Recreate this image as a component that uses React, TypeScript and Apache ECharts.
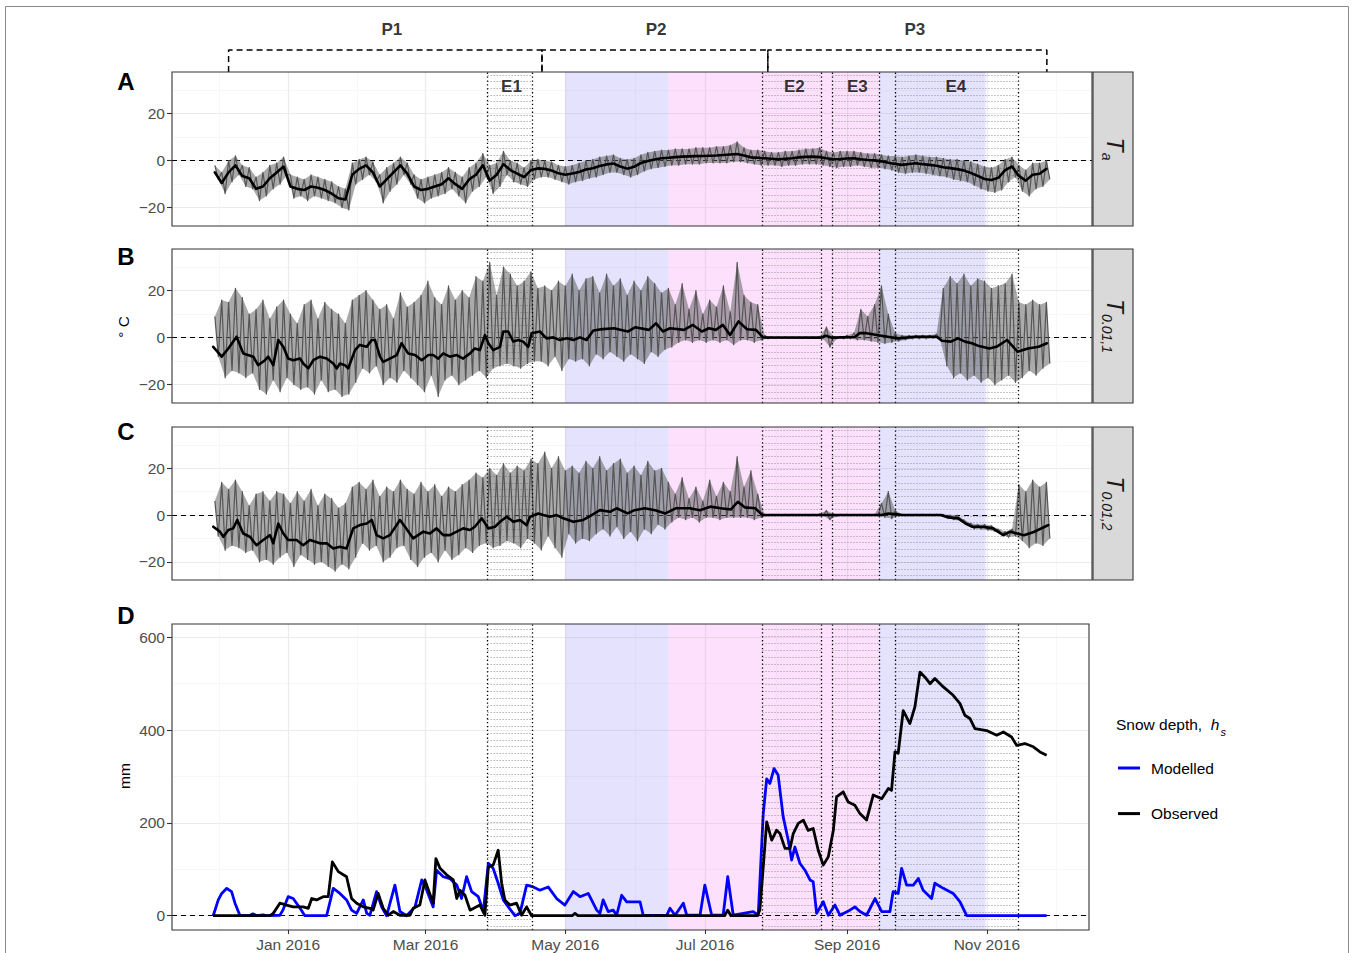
import React, { useEffect, useRef } from 'react';
import * as echarts from 'echarts';

// x values are days counted from 1 Jan 2016 (0 = 1 Jan 2016)
const X_TICKS = [0, 60, 121, 182, 244, 305];
const X_TICK_LABELS = ['Jan 2016', 'Mar 2016', 'May 2016', 'Jul 2016', 'Sep 2016', 'Nov 2016'];
const X_MINOR = [-30, 30, 90.5, 151.5, 213, 274.5, 335.5];
const T_TICKS = [-20, 0, 20];
const T_MINOR = [-10, 10, 30];
const D_TICKS = [0, 200, 400, 600];
const D_MINOR = [100, 300, 500];

const EVENT_NAMES = ['E1', 'E2', 'E3', 'E4'];
const EVENT_START = [87, 207, 237.5, 265];
const EVENT_END = [106.5, 232.5, 258, 318.5];
const EVENT_LABEL_AT = [97.5, 221, 248.5, 291.5];
const SHADE_BLUE = [[121, 166], [258, 304.5]];
const SHADE_PINK = [[166, 258]];
const PERIOD_NAMES = ['P1', 'P2', 'P3'];
const PERIOD_START = [-26, 110.8, 209.4];
const PERIOD_END = [110.8, 209.4, 331.2];
const PERIOD_LABEL_AT = [45.3, 160.6, 273.6];

// hourly temperature envelope, sampled every 3 days from day -32 (high, then low half a step later)
const GREY_START = -32;
const GREY_STEP = 3;

const TA_MEAN = [
  -5, -9.5, -5, -2, -6.5, -7.5, -12, -11, -7.5, -5,
  -2.5, -11, -12, -12.5, -11, -11.5, -12.5, -14, -16, -16.5,
  -6, -3.5, -2, -5, -11, -8, -5, -2, -5.5, -11,
  -12.5, -12, -11, -10, -7.5, -10, -12, -8, -6, -2,
  -8.5, -6, -1.5, -4, -5.5, -7, -4, -3.3, -3.5, -4.2,
  -5.4, -6, -5.5, -4.8, -3.8, -3.2, -2.3, -1.6, -1.2, -2.5,
  -3.4, -2.6, -1, -0.2, 0.5, 1, 1.2, 1.5, 1.7, 1.8,
  1.9, 2, 2.1, 2.2, 2.4, 2.6, 2.8, 2.2, 1.4, 1.2,
  1, 0.8, 0.6, 0.8, 1, 1.4, 1.6, 1.7, 1.5, 1,
  0.6, 0.7, 0.9, 1, 0.6, 0.3, 0.1, -0.3, -0.9, -1.4,
  -1.8, -1.4, -1.1, -1.5, -1.8, -2.2, -2.8, -3.2, -3.6, -4.2,
  -5.2, -6.5, -7.8, -8.2, -7.3, -4, -2.5, -6.5, -8.5, -6,
  -5.6, -3.5,
];
const TA_HI = [
  -2, -5, 0, 2, -2, -3, -7, -5, -2, -1,
  1.5, -6, -7, -8, -6, -7, -8, -9, -11, -12,
  -1, 0.5, 1.5, -0.5, -6, -3, -1, 1.5, -1, -6,
  -8, -7, -6, -5, -3, -5, -7, -3, -1, 3,
  -2, -1, 4, 0, -1, -3, 0, 0.5, 0, -0.5,
  -2, -2.5, -2, -1, 0, 0.5, 1.5, 2, 2.5, 1,
  0.5, 1, 2.5, 3.5, 4, 4.5, 4.5, 5, 5, 5,
  5.5, 5.5, 5.5, 6, 6, 6.5, 8, 5.5, 4.5, 4.5,
  4, 3.5, 3.5, 4, 4, 4.5, 5, 5, 5.5, 4,
  3.5, 4, 4, 4, 3.5, 3, 3, 2.5, 2, 2,
  1.5, 2, 2.5, 2, 1.5, 1.5, 1, 0.5, 0.5, 0,
  -0.5, -1.5, -2.5, -3, -2, 0.5, 1.5, -2, -4, -1,
  -1, 0,
];
const TA_LO = [
  -8, -14, -9, -6, -11, -12, -17, -15, -12, -10,
  -6, -16, -15, -17, -15, -16, -17, -18, -20, -21,
  -10, -8, -6, -9, -18, -13, -10, -6, -10, -16,
  -18, -16, -15, -14, -12, -15, -18, -13, -11, -7,
  -14, -11, -6, -9, -10, -11, -8, -7, -7, -8,
  -9, -10, -9, -8.5, -7.5, -7, -6, -5, -5, -6,
  -7, -6, -4.5, -3.5, -3, -2.5, -2, -2, -1.5, -1.5,
  -1.5, -1, -1, -1, -1, -0.5, -0.5, -1, -1.5, -2,
  -2, -2, -2.5, -2, -2, -1.5, -1.5, -1.5, -2, -2.5,
  -3, -2.5, -2.5, -2, -2.5, -3, -3, -3.5, -4, -5,
  -5.5, -5, -5, -5.5, -6, -6.5, -7, -8, -8.5, -9,
  -10.5, -12, -13, -13.5, -12.5, -9, -7, -13, -15, -12,
  -11, -8,
];

const T1_MEAN = [
  [-32.7, -3.9], [-29, -8.1], [-26.1, -4.6], [-22.5, 0.4], [-19.6, -6.7], [-15.2, -8.1], [-13.1, -11.7],
  [-10.1, -9.6], [-8.7, -8.1], [-6.5, -11.7], [-4.3, -1], [-2.1, -3.9], [0, -8.9], [2.2, -9.6], [5.2, -8.9],
  [6.6, -11], [8.8, -13.1], [11, -9.6], [13.9, -8.1], [16.8, -8.9], [19.7, -11], [21.2, -13.1], [22.6, -11],
  [24.8, -11.7], [26.2, -13.1], [29.2, -5.3], [31.3, -3.1], [34.3, -3.9], [36.5, -1], [37.9, -1], [40.1, -8.1],
  [41.5, -10.3], [44.4, -8.9], [47.4, -7.4], [49.5, -2.4], [52.4, -6.7], [55.4, -7.4], [58.3, -9.6], [61.2, -7.4],
  [63.3, -7.4], [65.5, -8.9], [67.7, -6.7], [70.6, -8.1], [73.6, -7.4], [76.4, -8.9], [79.4, -6.7], [81.5, -4.6],
  [83.7, -5.3], [85.9, 1.1], [87.4, -2.4], [89.5, -5.3], [92.5, -3.9], [93.9, 2.6], [96.1, 2.6], [98.3, -1.7],
  [100.4, -1], [102.6, -1.7], [104.8, -3.9], [106.3, 1.9], [109.9, 2.6], [112.8, -0.3], [115.7, 0.1], [118.6, -1],
  [121.6, -0.3], [124.5, -1], [127.4, 0.1], [130.3, -1], [133.2, 3], [136.1, 3.5], [142.2, 4], [148.3, 2.6],
  [151.4, 4.4], [157.5, 3.3], [160.6, 6.1], [163.6, 2.6], [166.7, 4], [172.8, 3.3], [176.7, 5.4], [180.6, 2.6],
  [183.7, 4], [186.7, 3.3], [189.8, 5.4], [192.9, 1.1], [196.6, 6.9], [200.3, 3.6], [204.2, 3.3], [207.3, 0.1],
  [232.6, 0], [234.7, 0.8], [237.4, 0], [247.4, 0.3], [249.4, 1.9], [252.5, 1.9], [257, 1.1], [261.7, 0.4],
  [266.2, -0.3], [274, 0.4], [283.1, 0.4], [285.4, -1.3], [289.3, -1.7], [292.4, -0.3], [295.4, -1.7],
  [298.5, -2.4], [301.6, -3.6], [306.1, -4.6], [309.2, -3.9], [313.8, -1], [318.4, -6], [322.9, -4.6],
  [327.6, -3.9], [331.2, -2.4],
];
const T1_HI = [
  9, 16, 15, 21, 17, 10, 12, 16, 8, 13,
  16, 10, 6, 14, 16, 8, 15, 12, 10, 6,
  16, 18, 20, 16, 12, 14, 8, 19, 13, 15,
  18, 24, 17, 14, 22, 16, 20, 17, 26, 24,
  32, 18, 30, 27, 22, 24, 28, 21, 22, 20,
  24, 22, 27, 20, 25, 26, 19, 27, 22, 25,
  18, 24, 20, 26, 23, 19, 21, 14, 23, 12,
  20, 10, 16, 13, 22, 11, 32, 18, 15, 14,
  1, 0.3, 0.3, 0.3, 0.3, 0.3, 0.3, 0.3, 0.5, 4.5,
  0.5, 0.5, 1, 2, 12, 9, 14, 22, 10, 2,
  1, 1, 1, 1, 1, 1.5, 21, 26, 23, 27,
  22, 25, 24, 21, 22, 23, 27, 15, 14, 16,
  14, 15,
];
const T1_LO = [
  -8, -17, -14, -15, -17, -15, -22, -24, -18, -23,
  -17, -20, -22, -21, -24, -18, -23, -22, -25, -24,
  -19, -13, -15, -12, -20, -17, -19, -14, -17, -20,
  -23, -16, -25, -18, -16, -20, -18, -16, -14, -17,
  -13, -12, -11, -12, -13, -11, -10, -10, -12, -8,
  -14, -9, -10, -9, -12, -7, -9, -6, -8, -10,
  -7, -9, -11, -6, -8, -5, -4, -2, -1, -2,
  -1, -2, -1, -2, -1, -3, -1, -1, -2, -1,
  -0.5, -0.3, -0.3, -0.3, -0.3, -0.3, -0.3, -0.3, -0.5, -4,
  -0.5, -0.5, -0.5, -1, -1, -1.5, -2, -2.5, -2, -1.5,
  -1, -0.5, -0.5, -0.5, -0.3, -0.5, -12, -17, -15, -18,
  -16, -19, -17, -20, -18, -16, -19, -17, -14, -16,
  -13, -11,
];

const T2_MEAN = [
  [-32.7, -5], [-29.8, -7.1], [-28.3, -9.3], [-26.1, -6.4], [-24, -5.7], [-22.2, -2.1], [-19.6, -7.9],
  [-16.7, -9.3], [-13.8, -12.9], [-10.9, -10.7], [-7.9, -8.6], [-6.5, -12.1], [-4.3, -3.6], [-2.1, -7.9],
  [0, -10.7], [3.7, -10.7], [6.6, -12.9], [9.5, -10.7], [13.9, -12.1], [16.8, -12.1], [19.7, -14.3],
  [22.6, -13.6], [25.5, -14.3], [28.4, -5.7], [31.3, -4.3], [34.3, -3.6], [36.5, -2.1], [38.6, -8.6],
  [41.5, -10], [44.4, -8.6], [48.8, -2.1], [51, -5], [54.6, -10], [59, -7.1], [61.9, -7.9], [64.8, -5.7],
  [67.7, -8.6], [70.6, -8.6], [73.6, -7.1], [76.4, -5.7], [79.4, -6.4], [81.5, -5], [84.5, -1.4], [87.4, -5.7],
  [90.3, -5], [92.5, -2.9], [95.4, -0.7], [98.3, -2.9], [101.2, -2.1], [104.1, -4.3], [105.6, -0.7],
  [109.2, 0.7], [111.4, 0], [114.3, -0.7], [117.2, 0], [120.1, -1.4], [124.5, -2.9], [128.8, -2.1],
  [132.5, 0], [136.1, 2.1], [140.5, 1.4], [143.4, 2.9], [148.2, 0.7], [151.2, 2.1], [155.7, 2.9], [160.2, 2.1],
  [164.7, 0.7], [169.2, 2.9], [175.3, 2.9], [179.8, 2.1], [184.3, 3.6], [188.8, 2.9], [193.3, 2.4], [196.3, 5.7],
  [199.3, 3.3], [203.9, 2.9], [206.6, 0.4], [207.5, 0], [259, 0], [262, 0.7], [266, 0.3], [268, 0], [285, 0],
  [288.1, -1], [292.6, -1.4], [295.7, -3.6], [298.7, -5], [303.2, -5], [307.7, -5.7], [312.2, -8.6],
  [315.2, -7.1], [318.2, -7.9], [321.2, -8.6], [325.8, -7.1], [330.3, -5], [331.8, -4.3],
];
const T2_HI = [
  6, 14, 11, 15, 10, 4, 9, 10, 6, 10,
  9, 5, 10, 6, 11, 4, 9, 7, 3, 5,
  12, 14, 11, 15, 8, 12, 10, 15, 11, 9,
  14, 10, 13, 8, 12, 10, 13, 15, 18, 16,
  20, 17, 22, 18, 21, 19, 24, 22, 27, 20,
  25, 19, 21, 18, 23, 20, 25, 19, 22, 24,
  18, 21, 17, 23, 19, 20, 14, 9, 16, 7,
  12, 6, 15, 8, 14, 10, 25, 12, 19, 9,
  0.3, 0.3, 0.3, 0.3, 0.3, 0.3, 0.3, 0.3, 0.5, 2,
  0.5, 0.3, 0.3, 0.3, 0.3, 0.3, 0.3, 5, 10, 2,
  0.3, 0.3, 0.3, 0.3, 0.3, 0.3, 0.3, 0, 0, -2,
  -3.5, -4, -4, -4.5, -6, -7, -6, 13, 10, 15,
  12, 14,
];
const T2_LO = [
  -9, -15, -13, -14, -16, -15, -20, -19, -21, -18,
  -16, -22, -17, -19, -21, -20, -22, -24, -21, -23,
  -18, -12, -15, -13, -20, -18, -14, -13, -19, -22,
  -18, -16, -20, -15, -19, -17, -14, -16, -13, -12,
  -14, -13, -11, -12, -14, -10, -12, -15, -9, -14,
  -18, -8, -12, -10, -11, -8, -6, -9, -5, -10,
  -7, -11, -6, -8, -4, -6, -3, -1, -2, -1,
  -3, -1, -1, -2, -1, -1, -1, -1, -2, -1,
  -0.3, -0.3, -0.3, -0.3, -0.3, -0.3, -0.3, -0.3, -0.3, -2,
  -0.5, -0.3, -0.3, -0.3, -0.3, -0.3, -0.3, -1, -1.5, -0.5,
  -0.3, -0.3, -0.3, -0.3, -0.3, -0.3, -1, -2, -2.5, -4,
  -6, -6, -6.5, -7, -8.5, -9.5, -9, -11, -14, -12,
  -13, -10,
];

// snow depth (mm), [day, value]
const HS_MODELLED = [
  [-32.7, 0], [-30.5, 34], [-29, 48], [-26.8, 59], [-24.7, 52], [-23.2, 27], [-21, 0], [-17, 0], [-15.4, 4],
  [-13.5, 0], [-11, 2], [-9.5, 0], [-3.6, 1], [-2.3, 12], [0, 41], [2.2, 37], [5.2, 16], [7.3, 0], [16.8, 0],
  [19.7, 59], [22.6, 48], [25.5, 34], [27.7, 12], [29.9, 5], [32.8, 34], [34.3, 5], [35.7, 1], [38.6, 52],
  [40.8, 19], [43, 0], [46.6, 66], [48.8, 9], [51.7, 0], [55.4, 19], [58.3, 77], [60.5, 55], [63.3, 19],
  [64.8, 98], [67.7, 84], [70.6, 80], [73.6, 66], [75.7, 37], [77.9, 84], [80.1, 52], [83, 41], [85.2, 9],
  [87.4, 113], [89.5, 102], [91.7, 70], [93.9, 34], [96.1, 19], [99, 0], [101.2, 5], [104.1, 66], [107, 62],
  [109.9, 55], [113.5, 62], [117.2, 37], [120.8, 23], [124.5, 52], [127.4, 41], [131, 48], [134.7, 12],
  [136.1, 5], [137.5, 34], [139.7, 9], [141.9, 12], [143.4, 1], [145.6, 44], [147.8, 30], [149.9, 30],
  [153.6, 30], [155, 1], [165.2, 0], [166.7, 16], [168.9, 1], [172.5, 27], [174, 1], [179.8, 1], [181.9, 66],
  [184.9, 1], [189.9, 1], [191.9, 84], [194.3, 1], [203, 9], [205.2, 1], [207.4, 220], [208.9, 295],
  [210.3, 285], [212.1, 317], [213.9, 303], [216.1, 213], [218.3, 163], [219.8, 120], [221.2, 148],
  [223.4, 113], [225.6, 98], [227.8, 77], [229.2, 73], [230.7, 5], [233.6, 30], [235.8, 1], [238.7, 23],
  [240.9, 1], [245.2, 12], [247.4, 19], [249.6, 9], [252.5, 1], [256.2, 37], [259.1, 9], [262.7, 9],
  [264.1, 52], [266.3, 48], [267.8, 102], [270, 66], [272.9, 66], [275.1, 80], [277.2, 55], [280.9, 37],
  [282.3, 70], [286, 59], [290.3, 48], [293.3, 30], [296.2, 0], [331.1, 0],
];
const HS_OBSERVED = [
  [-32.8, 0], [-7.9, 0], [-6.5, 5], [-3.6, 27], [-0.7, 23], [2.2, 19], [6.6, 19], [8.8, 16], [10.3, 37],
  [12.4, 34], [15.3, 41], [17.5, 41], [19.3, 116], [21.9, 95], [25.5, 84], [27.7, 37], [29.9, 27], [32.8, 19],
  [35.7, 16], [37.1, 12], [39.3, 48], [41.5, 16], [43.7, 1], [45.9, 9], [48.8, 1], [53.2, 1], [54.6, 16],
  [57.5, 23], [59.7, 77], [63.3, 27], [64.5, 123], [66.3, 102], [69.2, 88], [72.1, 77], [73.6, 37], [75, 55],
  [77.2, 44], [79.4, 12], [83.7, 23], [85.9, 1], [87.4, 105], [89.5, 109], [91.7, 141], [93.2, 70], [94.6, 34],
  [96.8, 23], [99.7, 27], [101.9, 1], [104.1, 19], [106.3, 0], [124, 0], [125.2, 5], [126.5, 0], [190.5, 0],
  [191.9, 12], [193.3, 0], [204.8, 0], [205.9, 12], [207.4, 105], [208.9, 202], [211.1, 163], [213.2, 184],
  [214.7, 177], [216.9, 145], [219.1, 145], [220.5, 177], [222.7, 199], [224.9, 206], [227, 184], [229.2, 188],
  [231.4, 141], [233.6, 109], [235.8, 127], [238, 184], [239.4, 256], [242.3, 267], [244.5, 245], [247.4, 238],
  [249.6, 220], [252.5, 206], [255.4, 260], [259.1, 252], [262, 274], [263.4, 270], [264.9, 353], [266.3, 350],
  [268.5, 442], [271.4, 414], [273.6, 450], [275.8, 525], [278, 514], [280.2, 500], [282.3, 511], [286, 493],
  [290.3, 475], [293.3, 457], [295.4, 432], [297.6, 425], [299.8, 403], [304.9, 399], [309.3, 389],
  [312.2, 396], [315.8, 385], [318, 367], [321.6, 371], [325.3, 364], [328.2, 353], [331.1, 346],
];

const FONT = "'Liberation Sans', Arial, Helvetica, sans-serif";
const TICK_COLOR = '#4d4d4d';
const BLUE_FILL = 'rgba(120,110,240,0.2)';
const PINK_FILL = 'rgba(245,120,240,0.22)';

const PLOT_LEFT = 172;
const PANELS = [
  { top: 72, h: 154, w: 920 },
  { top: 249, h: 154, w: 920 },
  { top: 427, h: 153, w: 920 },
  { top: 624, h: 306, w: 917 },
];
const X_MIN = -50.7;
const PX_PER_DAY = 2.2908;
const T_RANGE = [-27.8, 37.7];
const D_RANGE = [-30.8, 628.6];

function zigzag(hi: number[], lo: number[]) {
  const out: number[][] = [];
  for (let i = 0; i < hi.length; i++) {
    const d = GREY_START + GREY_STEP * i;
    out.push([d, hi[i]]);
    out.push([d + GREY_STEP / 2, lo[i]]);
  }
  return out;
}
function onGrid(vals: number[]) {
  return vals.map((v, i) => [GREY_START + GREY_STEP * i, v]);
}
const yFmt = (v: number) => (v < 0 ? '\u2212' + Math.abs(v) : String(v));
const xFmt = (v: number) => {
  const i = X_TICKS.indexOf(v);
  return i >= 0 ? X_TICK_LABELS[i] : '';
};

function buildOption() {
  const grids: any[] = [];
  const xAxes: any[] = [];
  const yAxes: any[] = [];
  const series: any[] = [];
  const graphics: any[] = [];

  PANELS.forEach((p, g) => {
    const isD = g === 3;
    const xMax = X_MIN + p.w / PX_PER_DAY;
    const yr = isD ? D_RANGE : T_RANGE;
    const yt = isD ? D_TICKS : T_TICKS;
    const ym = isD ? D_MINOR : T_MINOR;
    grids.push({ left: PLOT_LEFT, top: p.top, width: p.w, height: p.h, containLabel: false });
    xAxes.push({
      type: 'value', gridIndex: g, min: X_MIN, max: xMax, position: 'bottom',
      axisLine: { show: false, onZero: false },
      axisTick: { show: isD, customValues: X_TICKS, length: 4, lineStyle: { color: '#333', width: 1.1 } },
      axisLabel: { show: isD, customValues: X_TICKS, formatter: xFmt, color: TICK_COLOR, fontSize: 15.5, fontFamily: FONT, margin: 6 },
      splitLine: { show: true, lineStyle: { color: '#ebebeb', width: 1.2 } },
    });
    xAxes.push({
      type: 'value', gridIndex: g, min: X_MIN, max: xMax, position: 'top',
      axisLine: { show: false, onZero: false },
      axisTick: { show: false, customValues: X_MINOR },
      axisLabel: { show: false, customValues: X_MINOR },
      splitLine: { show: true, lineStyle: { color: '#f3f3f3', width: 0.7 } },
    });
    yAxes.push({
      type: 'value', gridIndex: g, min: yr[0], max: yr[1], position: 'left',
      axisLine: { show: false, onZero: false },
      axisTick: { show: true, customValues: yt, length: 5, lineStyle: { color: '#333', width: 1.1 } },
      axisLabel: { show: true, customValues: yt, formatter: yFmt, color: TICK_COLOR, fontSize: 15.5, fontFamily: FONT, margin: 7 },
      splitLine: { show: true, lineStyle: { color: '#ebebeb', width: 1.2 } },
    });
    yAxes.push({
      type: 'value', gridIndex: g, min: yr[0], max: yr[1], position: 'right',
      axisLine: { show: false, onZero: false },
      axisTick: { show: false, customValues: ym },
      axisLabel: { show: false, customValues: ym },
      splitLine: { show: true, lineStyle: { color: '#f3f3f3', width: 0.7 } },
    });

    const xi = 2 * g;
    const yi = 2 * g;
    const base = { type: 'line', xAxisIndex: xi, yAxisIndex: yi, silent: true, symbol: 'none' };

    // shaded seasons
    series.push({
      ...base, data: [],
      markArea: {
        silent: true, z: 1,
        data: [
          ...SHADE_BLUE.map(([s, e]) => [{ xAxis: s, itemStyle: { color: BLUE_FILL } }, { xAxis: e }]),
          ...SHADE_PINK.map(([s, e]) => [{ xAxis: s, itemStyle: { color: PINK_FILL } }, { xAxis: e }]),
        ],
      },
    });
    // hatching in event windows
    const step = isD ? 14.85 : 2.84;
    const first = yr[1] - (isD ? 12 : 1.2);
    const hatch: any[] = [];
    for (let k = 0; k < EVENT_START.length; k++) {
      for (let v = first; v > yr[0]; v -= step) {
        hatch.push([{ coord: [EVENT_START[k], v] }, { coord: [EVENT_END[k], v] }]);
      }
    }
    series.push({
      ...base, data: [],
      markLine: {
        silent: true, z: 2, symbol: ['none', 'none'], label: { show: false },
        lineStyle: { color: '#a0a0a0', width: 0.8, type: [1.5, 1.5] },
        data: hatch,
      },
    });
    // zero line
    series.push({
      ...base, data: [],
      markLine: {
        silent: true, z: 2, symbol: ['none', 'none'], label: { show: false },
        lineStyle: { color: '#000', width: 1.2, type: [5, 4] },
        data: [{ yAxis: 0 }],
      },
    });
    // event boundaries
    series.push({
      ...base, data: [],
      markLine: {
        silent: true, z: 5, symbol: ['none', 'none'], label: { show: false },
        lineStyle: { color: '#000', width: 1.3, type: [1.3, 2.6] },
        data: [...EVENT_START, ...EVENT_END].map((d) => ({ xAxis: d })),
      },
    });

    if (!isD) {
      const hi = [TA_HI, T1_HI, T2_HI][g];
      const lo = [TA_LO, T1_LO, T2_LO][g];
      const mean = [onGrid(TA_MEAN), T1_MEAN, T2_MEAN][g];
      // envelope of the hourly record
      series.push({
        type: 'custom', xAxisIndex: xi, yAxisIndex: yi, silent: true, z: 3, clip: true,
        data: [[hi.length]],
        renderItem: (params: any, api: any) => {
          const pts: number[][] = [];
          for (let i = 0; i < hi.length; i++) pts.push(api.coord([GREY_START + GREY_STEP * i, hi[i]]));
          for (let i = lo.length - 1; i >= 0; i--) pts.push(api.coord([GREY_START + GREY_STEP * i + GREY_STEP / 2, lo[i]]));
          return { type: 'polygon', shape: { points: pts }, style: { fill: 'rgba(85,85,85,0.5)', stroke: null } };
        },
      });
      series.push({ ...base, z: 3, data: zigzag(hi, lo), lineStyle: { color: '#555', width: 1.2, join: 'round' } });
      series.push({ ...base, z: 4, data: mean, lineStyle: { color: '#000', width: 2.6, join: 'round', cap: 'round' } });
    } else {
      series.push({ ...base, name: 'Modelled', z: 3, data: HS_MODELLED, itemStyle: { color: '#0000ff' }, lineStyle: { color: '#0000ff', width: 2.8, join: 'round' } });
      series.push({ ...base, name: 'Observed', z: 4, data: HS_OBSERVED, itemStyle: { color: '#000' }, lineStyle: { color: '#000', width: 2.8, join: 'round' } });
    }

    // panel border
    graphics.push({
      type: 'rect', silent: true, z: 100,
      shape: { x: PLOT_LEFT, y: p.top, width: p.w, height: p.h },
      style: { fill: 'none', stroke: '#333', lineWidth: 1.1 },
    });
    if (!isD) {
      graphics.push({
        type: 'rect', silent: true, z: 100,
        shape: { x: PLOT_LEFT + p.w + 1, y: p.top, width: 40, height: p.h },
        style: { fill: '#d9d9d9', stroke: '#333', lineWidth: 1.1 },
      });
      const sub = ['a', '0.01,1', '0.01,2'][g];
      graphics.push({
        type: 'text', silent: true, z: 101,
        x: PLOT_LEFT + p.w + 21, y: p.top + p.h / 2, rotation: -Math.PI / 2,
        style: {
          text: '{t|T}{s|' + sub + '}',
          align: 'center', verticalAlign: 'middle', fill: '#1a1a1a',
          rich: {
            t: { fontSize: 23, fontStyle: 'italic', fontFamily: FONT, fill: '#1a1a1a', verticalAlign: 'bottom', padding: [0, 1, 4, 0] },
            s: { fontSize: 14, fontStyle: 'italic', fontFamily: FONT, fill: '#1a1a1a', verticalAlign: 'bottom' },
          },
        },
      });
    }
    graphics.push({
      type: 'text', silent: true, z: 101,
      x: 126, y: [81, 256, 431, 615][g],
      style: { text: 'ABCD'[g], fontSize: 24, fontWeight: 'bold', fontFamily: FONT, fill: '#000', align: 'center', verticalAlign: 'middle' },
    });
  });

  // bracket grid above panel A
  grids.push({ left: PLOT_LEFT, top: 22, width: 920, height: 50 });
  xAxes.push({ type: 'value', gridIndex: 4, min: X_MIN, max: X_MIN + 920 / PX_PER_DAY, show: false });
  yAxes.push({ type: 'value', gridIndex: 4, min: 0, max: 1, show: false });
  PERIOD_NAMES.forEach((n, i) => {
    series.push({
      type: 'line', xAxisIndex: 8, yAxisIndex: 8, silent: true, symbol: 'none', z: 3,
      data: [[PERIOD_START[i], 0], [PERIOD_START[i], 0.44], [PERIOD_END[i], 0.44], [PERIOD_END[i], 0]],
      lineStyle: { color: '#000', width: 1.5, type: [6, 4] },
    });
  });
  series.push({
    type: 'scatter', xAxisIndex: 8, yAxisIndex: 8, silent: true, symbolSize: 1,
    itemStyle: { color: 'transparent' },
    data: PERIOD_NAMES.map((n, i) => ({ name: n, value: [PERIOD_LABEL_AT[i], 0.86] })),
    label: { show: true, position: 'inside', formatter: '{b}', fontSize: 17, fontWeight: 'bold', color: '#000', fontFamily: FONT },
  });
  series.push({
    type: 'scatter', xAxisIndex: 0, yAxisIndex: 0, silent: true, symbolSize: 1, z: 6,
    itemStyle: { color: 'transparent' },
    data: EVENT_NAMES.map((n, i) => ({ name: n, value: [EVENT_LABEL_AT[i], 31.4] })),
    label: { show: true, position: 'inside', formatter: '{b}', fontSize: 17, fontWeight: 'bold', color: '#000', fontFamily: FONT },
  });

  // axis titles
  graphics.push({
    type: 'text', silent: true, z: 101, x: 123, y: 327, rotation: Math.PI / 2,
    style: { text: '\u00b0 C', fontSize: 15.5, fontFamily: FONT, fill: '#000', align: 'center', verticalAlign: 'middle' },
  });
  graphics.push({
    type: 'text', silent: true, z: 101, x: 124, y: 776, rotation: Math.PI / 2,
    style: { text: 'mm', fontSize: 15.5, fontFamily: FONT, fill: '#000', align: 'center', verticalAlign: 'middle' },
  });
  // legend title
  graphics.push({
    type: 'text', silent: true, z: 101, x: 1116, y: 727,
    style: {
      text: '{a|Snow depth,  }{h|h}{s|s}', align: 'left', verticalAlign: 'middle', fill: '#000',
      rich: {
        a: { fontSize: 15.5, fontFamily: FONT, fill: '#000', verticalAlign: 'bottom', padding: [0, 0, 5, 0] },
        h: { fontSize: 15.5, fontStyle: 'italic', fontFamily: FONT, fill: '#000', verticalAlign: 'bottom', padding: [0, 1, 5, 0] },
        s: { fontSize: 11, fontStyle: 'italic', fontFamily: FONT, fill: '#000', verticalAlign: 'bottom' },
      },
    },
  });
  // outer frame
  graphics.push({
    type: 'rect', silent: true, z: 100,
    shape: { x: 5.5, y: 6.5, width: 1343, height: 960 },
    style: { fill: 'none', stroke: '#8a8a8a', lineWidth: 1 },
  });

  return {
    animation: false,
    backgroundColor: '#fff',
    textStyle: { fontFamily: FONT },
    grid: grids,
    xAxis: xAxes,
    yAxis: yAxes,
    legend: {
      data: ['Modelled', 'Observed'], orient: 'vertical', left: 1118, top: 759, padding: 0,
      itemWidth: 22, itemHeight: 3, itemGap: 27.6, icon: 'rect', selectedMode: false,
      textStyle: { fontSize: 15.5, color: '#000', fontFamily: FONT, lineHeight: 18, padding: [0, 0, 0, 6] },
    },
    graphic: graphics,
    series,
  };
}

export default function App() {
  const ref = useRef<HTMLDivElement>(null);
  useEffect(() => {
    document.body.style.margin = '0';
    const chart = echarts.init(ref.current!, null, { renderer: 'svg' });
    chart.setOption(buildOption() as any);
    return () => chart.dispose();
  }, []);
  return <div ref={ref} style={{ width: 1352, height: 953 }} />;
}
